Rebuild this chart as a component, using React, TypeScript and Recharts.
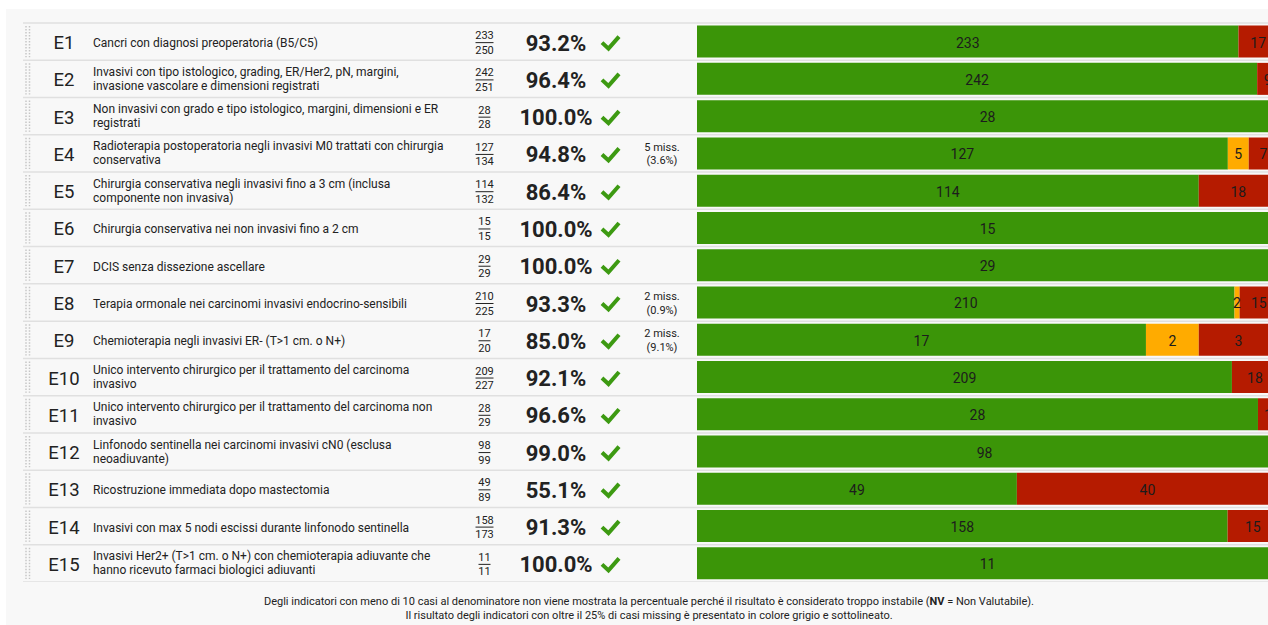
import { Bar, BarChart, LabelList, XAxis, YAxis } from "recharts"

const ids = ["E1", "E2", "E3", "E4", "E5", "E6", "E7", "E8", "E9", "E10", "E11", "E12", "E13", "E14", "E15"]

const descriptions = [
    "Cancri con diagnosi preoperatoria (B5/C5)",
    "Invasivi con tipo istologico, grading, ER/Her2, pN, margini,\ninvasione vascolare e dimensioni registrati",
    "Non invasivi con grado e tipo istologico, margini, dimensioni e ER\nregistrati",
    "Radioterapia postoperatoria negli invasivi M0 trattati con chirurgia\nconservativa",
    "Chirurgia conservativa negli invasivi fino a 3 cm (inclusa\ncomponente non invasiva)",
    "Chirurgia conservativa nei non invasivi fino a 2 cm",
    "DCIS senza dissezione ascellare",
    "Terapia ormonale nei carcinomi invasivi endocrino-sensibili",
    "Chemioterapia negli invasivi ER- (T>1 cm. o N+)",
    "Unico intervento chirurgico per il trattamento del carcinoma\ninvasivo",
    "Unico intervento chirurgico per il trattamento del carcinoma non\ninvasivo",
    "Linfonodo sentinella nei carcinomi invasivi cN0 (esclusa\nneoadiuvante)",
    "Ricostruzione immediata dopo mastectomia",
    "Invasivi con max 5 nodi escissi durante linfonodo sentinella",
    "Invasivi Her2+ (T>1 cm. o N+) con chemioterapia adiuvante che\nhanno ricevuto farmaci biologici adiuvanti",
]

const numerators = [233, 242, 28, 127, 114, 15, 29, 210, 17, 209, 28, 98, 49, 158, 11]
const denominators = [250, 251, 28, 134, 132, 15, 29, 225, 20, 227, 29, 99, 89, 173, 11]
const missing = [0, 0, 0, 5, 0, 0, 0, 2, 2, 0, 0, 0, 0, 0, 0]

const data = ids.map((id, i) => ({
    id,
    ok: numerators[i],
    miss: missing[i],
    ko: denominators[i] - numerators[i],
}))

const FONT = "Roboto, sans-serif"
const TOP = 23
const CHART_H = 582
const ROW_H = (CHART_H - TOP) / ids.length

function RowTick(props: any) {
    const { payload } = props
    const y = props.y + 1
    const i = ids.indexOf(payload.value)
    const top = props.y - ROW_H / 2
    const lines = descriptions[i].split("\n")
    const num = String(numerators[i])
    const den = String(denominators[i])
    const fracW = Math.max(num.length, den.length) * 6
    const pct = ((numerators[i] / denominators[i]) * 100).toFixed(1) + "%"
    const miss = missing[i]
    const missPct = miss ? ((miss / (denominators[i] + miss)) * 100).toFixed(1) : ""
    return (
        <g fontFamily={FONT} fill="#222">
            <line x1={23} x2={1300} y1={top} y2={top} stroke="#e0e0e0" strokeWidth={1.5} />
            {i === ids.length - 1 && (
                <line x1={23} x2={1300} y1={top + ROW_H} y2={top + ROW_H} stroke="#e0e0e0" strokeWidth={1.5} />
            )}
            <line x1={26} x2={26} y1={top + 3} y2={top + ROW_H - 3} stroke="#c6c6c6" strokeWidth={1.5} strokeDasharray="1.5 1.5" />
            <line x1={29.5} x2={29.5} y1={top + 3} y2={top + ROW_H - 3} stroke="#c6c6c6" strokeWidth={1.5} strokeDasharray="1.5 1.5" />
            <text x={64} y={y + 6.5} textAnchor="middle" fontSize={18.5}>
                {payload.value}
            </text>
            {lines.length === 1 ? (
                <text x={93} y={y + 4.5} fontSize={12}>
                    {lines[0]}
                </text>
            ) : (
                <text x={93} fontSize={12}>
                    <tspan x={93} y={y - 4}>{lines[0]}</tspan>
                    <tspan x={93} y={y + 10}>{lines[1]}</tspan>
                </text>
            )}
            <text x={484.5} y={y - 3.5} textAnchor="middle" fontSize={11}>
                {num}
            </text>
            <line x1={484.5 - fracW / 2} x2={484.5 + fracW / 2} y1={y} y2={y} stroke="#222" strokeWidth={1} />
            <text x={484.5} y={y + 11} textAnchor="middle" fontSize={11}>
                {den}
            </text>
            <text x={556} y={y + 8} textAnchor="middle" fontSize={22} fontWeight="bold">
                {pct}
            </text>
            <polyline
                points={`${602},${y} ${608.5},${y + 6} ${619},${y - 6}`}
                fill="none"
                stroke="#3d9a12"
                strokeWidth={4}
            />
            {miss > 0 && (
                <text x={662} fontSize={11} textAnchor="middle">
                    <tspan x={662} y={y - 3.5}>{miss} miss.</tspan>
                    <tspan x={662} y={y + 10}>({missPct}%)</tspan>
                </text>
            )}
        </g>
    )
}

function SegLabel(props: any) {
    const { x, y, width, height, value } = props
    if (!value) return null
    return (
        <text
            x={x + width / 2}
            y={y + height / 2 + 6}
            textAnchor="middle"
            fontSize={14}
            fontFamily={FONT}
            fill="#1c1c1c"
        >
            {value}
        </text>
    )
}

export default function App() {
    return (
        <div style={{ position: "fixed", left: 0, top: 0, width: 1268, height: 625, overflow: "hidden", background: "#fff" }}>
            <div style={{ position: "absolute", left: 6, top: 9, right: 0, bottom: 0, background: "#f8f8f8" }} />
            <div style={{ position: "absolute", left: 0, top: 0 }}>
                <BarChart
                    width={1278}
                    height={CHART_H}
                    data={data}
                    layout="vertical"
                    stackOffset="expand"
                    barCategoryGap={2.6}
                    margin={{ top: TOP, right: 0, bottom: 0, left: 0 }}
                >
                    <XAxis type="number" hide domain={[0, 1]} />
                    <YAxis
                        type="category"
                        dataKey="id"
                        width={697}
                        axisLine={false}
                        tickLine={false}
                        interval={0}
                        tick={<RowTick />}
                    />
                    <Bar dataKey="ok" stackId="a" fill="#3b9508" isAnimationActive={false}>
                        <LabelList dataKey="ok" content={<SegLabel />} />
                    </Bar>
                    <Bar dataKey="miss" stackId="a" fill="#ffab00" isAnimationActive={false}>
                        <LabelList dataKey="miss" content={<SegLabel />} />
                    </Bar>
                    <Bar dataKey="ko" stackId="a" fill="#b51b00" isAnimationActive={false}>
                        <LabelList dataKey="ko" content={<SegLabel />} />
                    </Bar>
                </BarChart>
            </div>
            <div
                style={{
                    position: "absolute",
                    left: 249,
                    width: 800,
                    top: 595,
                    textAlign: "center",
                    fontFamily: FONT,
                    fontSize: 11,
                    lineHeight: "14px",
                    color: "#222",
                }}
            >
                Degli indicatori con meno di 10 casi al denominatore non viene mostrata la percentuale perché il risultato è
                considerato troppo instabile (<b>NV</b> = Non Valutabile).
                <br />
                Il risultato degli indicatori con oltre il 25% di casi missing è presentato in colore grigio e sottolineato.
            </div>
        </div>
    )
}
